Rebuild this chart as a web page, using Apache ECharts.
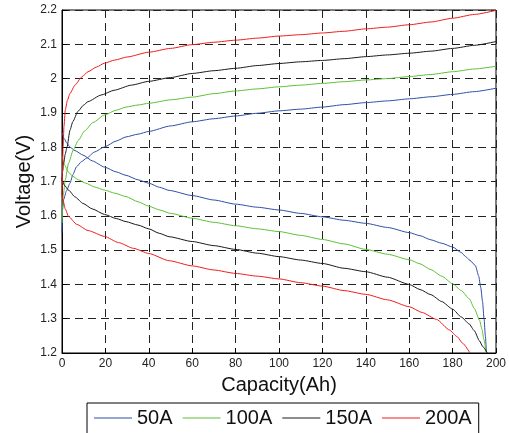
<!DOCTYPE html>
<html>
<head>
<meta charset="utf-8">
<script src="https://cdn.jsdelivr.net/npm/echarts@6/dist/echarts.min.js"></script>
<style>
  html, body { margin: 0; padding: 0; background: #fff; }
  #main { width: 509px; height: 433px; }
</style>
</head>
<body>
<div id="main"></div>
<script>
// currents shown in the legend
var currents = ['50A', '100A', '150A', '200A'];
var colors = ['#2e4fa6', '#5ac136', '#1a1a1a', '#f01c1c'];

// charge curves [capacity(Ah), voltage(V)]
var charge50 = [[0,1.55],[0.3,1.62],[0.8,1.648],[2,1.672],[3.7,1.695],[5,1.72],[6.7,1.743],[9,1.758],[11.3,1.768],[15,1.786],[19.6,1.801],[25,1.818],[29.5,1.83],[35,1.838],[40,1.846],[50,1.862],[60,1.874],[70,1.883],[80,1.891],[90,1.899],[100,1.906],[110,1.911],[120,1.917],[130,1.924],[140,1.93],[150,1.935],[160,1.941],[170,1.947],[180,1.954],[190,1.962],[200,1.972]];
var charge100 = [[0,1.58],[0.2,1.62],[0.6,1.66],[1.5,1.705],[3,1.753],[5.2,1.792],[7.5,1.82],[10.5,1.848],[14.3,1.872],[19.6,1.894],[25,1.908],[29.5,1.917],[35,1.923],[40,1.928],[50,1.938],[60,1.946],[70,1.956],[80,1.964],[90,1.97],[100,1.976],[110,1.981],[120,1.986],[130,1.991],[140,1.996],[150,2.0],[160,2.006],[170,2.012],[180,2.02],[190,2.028],[200,2.036]];
var charge150 = [[0,1.70],[0.3,1.73],[0.7,1.75],[1.5,1.78],[2.3,1.80],[3.7,1.85],[5,1.875],[7.4,1.905],[10,1.923],[12,1.933],[18,1.952],[24,1.966],[32,1.981],[40,1.992],[50,2.003],[60,2.015],[70,2.023],[80,2.03],[90,2.038],[100,2.044],[110,2.049],[120,2.053],[130,2.058],[140,2.064],[150,2.069],[160,2.074],[170,2.08],[180,2.088],[190,2.097],[200,2.108]];
var charge200 = [[0,1.66],[0.2,1.72],[0.5,1.80],[0.9,1.86],[1.5,1.908],[2.5,1.937],[3.7,1.957],[6,1.981],[9,2.004],[12,2.02],[16,2.034],[19.6,2.045],[24.3,2.054],[30,2.063],[40,2.077],[50,2.088],[60,2.099],[70,2.106],[80,2.112],[90,2.118],[100,2.124],[110,2.128],[120,2.133],[130,2.138],[140,2.145],[150,2.15],[160,2.157],[170,2.165],[180,2.176],[190,2.187],[200,2.199]];

// discharge curves [capacity(Ah), voltage(V)]
var discharge50 = [[0,1.845],[1,1.825],[2.3,1.811],[3.7,1.80],[6,1.79],[9.7,1.777],[14,1.76],[19.6,1.742],[25,1.728],[29.5,1.718],[35,1.705],[40,1.695],[45,1.683],[49.4,1.674],[60,1.659],[70,1.646],[80,1.634],[90,1.625],[100,1.617],[110,1.607],[120,1.597],[130,1.587],[140,1.578],[150,1.566],[160,1.551],[165,1.542],[170,1.53],[175,1.52],[180,1.509],[184,1.493],[186,1.481],[188,1.47],[190.5,1.455],[192,1.425],[193,1.39],[193.8,1.35],[194.5,1.3],[195.1,1.25],[195.6,1.2]];
var discharge100 = [[0,1.775],[1,1.75],[3,1.727],[5,1.715],[7.5,1.705],[11,1.695],[15,1.684],[19.6,1.675],[24.3,1.666],[29.5,1.656],[35,1.641],[40,1.628],[45,1.617],[50,1.607],[60,1.593],[70,1.581],[80,1.571],[90,1.562],[100,1.554],[110,1.543],[120,1.531],[130,1.518],[140,1.502],[150,1.488],[160,1.472],[165,1.46],[170,1.443],[175,1.424],[180,1.402],[184,1.382],[187.7,1.358],[190,1.33],[192.4,1.296],[193.5,1.27],[194.4,1.24],[195.5,1.2]];
var discharge150 = [[0,1.71],[1,1.69],[3,1.675],[6,1.655],[9.7,1.636],[14,1.62],[19.6,1.604],[25,1.592],[29.5,1.583],[35,1.573],[40,1.562],[44.8,1.549],[49.4,1.539],[60,1.525],[70,1.513],[80,1.502],[90,1.491],[100,1.481],[110,1.471],[120,1.461],[130,1.447],[140,1.437],[150,1.421],[160,1.40],[165,1.385],[170,1.37],[175,1.35],[180,1.328],[184,1.305],[187.6,1.285],[190,1.265],[192.4,1.235],[194,1.218],[196,1.2]];
var discharge200 = [[0,1.665],[0.5,1.645],[1.5,1.62],[3,1.598],[6.8,1.575],[12,1.557],[19.6,1.54],[26,1.522],[33,1.505],[40,1.49],[49.4,1.469],[60,1.454],[70,1.442],[80,1.432],[90,1.424],[100,1.416],[110,1.405],[120,1.395],[130,1.382],[140,1.371],[150,1.355],[160,1.335],[166,1.318],[172.6,1.298],[178.6,1.267],[182,1.248],[184.7,1.228],[188,1.2]];

var chargeData = [charge50, charge100, charge150, charge200];
var dischargeData = [discharge50, discharge100, discharge150, discharge200];

window.onload = function() {
  var chart = echarts.init(document.getElementById('main'));
  var font = 'Liberation Sans, Arial, Helvetica, sans-serif';

  var series = [];
  for (var i = 0; i < currents.length; i++) {
    [chargeData[i], dischargeData[i]].forEach(function(d) {
      series.push({
        name: currents[i],
        type: 'line',
        data: d,
        symbol: 'none',
        smooth: 0.2,
        smoothMonotone: 'x',
        lineStyle: { color: colors[i], width: 1 },
        itemStyle: { color: colors[i] },
        z: 3
      });
    });
  }

  var option = {
    animation: false,
    textStyle: { fontFamily: font },
    grid: {
      left: 62,
      right: 9,
      top: 10,
      bottom: 80,
      show: true,
      borderColor: '#000',
      borderWidth: 1,
      backgroundColor: 'transparent'
    },
    legend: {
      data: currents,
      left: 87,
      top: 403,
      padding: [5, 7, 12, 7],
      itemGap: 10,
      itemWidth: 38,
      itemHeight: 1,
      icon: 'rect',
      borderColor: '#000',
      borderWidth: 1,
      textStyle: { fontSize: 20, color: '#111', fontFamily: font }
    },
    xAxis: {
      type: 'value',
      min: 0,
      max: 200,
      interval: 20,
      name: 'Capacity(Ah)',
      nameLocation: 'middle',
      nameGap: 22,
      nameTextStyle: { fontSize: 20, color: '#111', fontFamily: font },
      axisLine: { lineStyle: { color: '#000', width: 1 } },
      axisTick: { inside: true, length: 5, lineStyle: { color: '#000' } },
      axisLabel: { fontSize: 12, color: '#222', margin: 5, fontFamily: font },
      splitLine: { show: true, lineStyle: { color: '#222', type: [8, 5], width: 1 } }
    },
    yAxis: {
      type: 'value',
      min: 1.2,
      max: 2.2,
      interval: 0.1,
      name: 'Voltage(V)',
      nameLocation: 'middle',
      nameGap: 28,
      nameMoveOverlap: false,
      nameTextStyle: { fontSize: 20, color: '#111', fontFamily: font },
      axisLine: { show: true, lineStyle: { color: '#000', width: 1 } },
      axisTick: { show: true, inside: true, length: 5, lineStyle: { color: '#000' } },
      axisLabel: { fontSize: 12, color: '#222', margin: 5, fontFamily: font },
      splitLine: { show: true, lineStyle: { color: '#222', type: [8, 5], width: 1 } }
    },
    series: series
  };

  chart.setOption(option);
};
</script>
</body>
</html>
